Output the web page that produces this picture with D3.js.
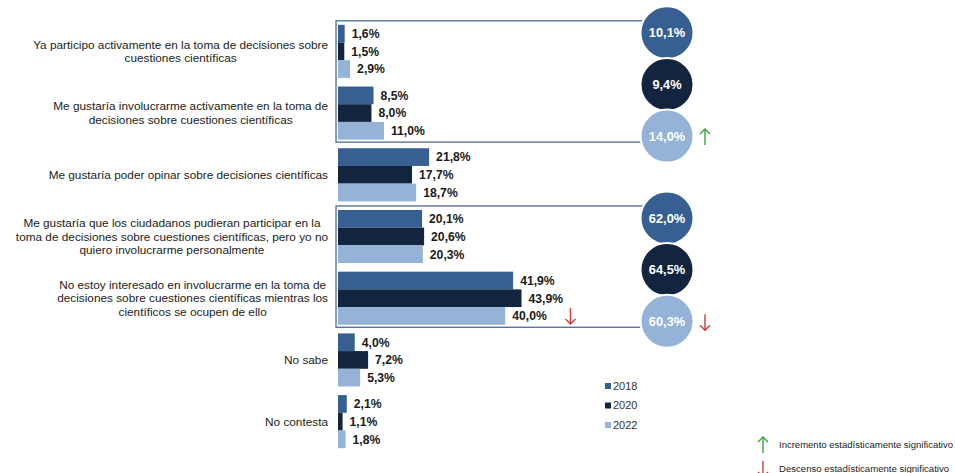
<!DOCTYPE html>
<html><head><meta charset="utf-8">
<script src="https://cdn.jsdelivr.net/npm/d3@7"></script>
<style>body{margin:0;background:#fff}svg{display:block;font-family:"Liberation Sans",Arial,sans-serif}</style>
</head><body>
<svg id="c" width="955" height="473"></svg>
<script>
const categories = [
  ["Ya participo activamente en la toma de decisiones sobre","cuestiones científicas"],
  ["Me gustaría involucrarme activamente en la toma de","decisiones sobre cuestiones científicas"],
  ["Me gustaría poder opinar sobre decisiones científicas"],
  ["Me gustaría que los ciudadanos pudieran participar en la","toma de decisiones sobre cuestiones científicas, pero yo no","quiero involucrarme personalmente"],
  ["No estoy interesado en involucrarme en la toma de","decisiones sobre cuestiones científicas mientras los","científicos se ocupen de ello"],
  ["No sabe"],
  ["No contesta"]
];
const years = ["2018","2020","2022"];
const v2018 = [1.6, 8.5, 21.8, 20.1, 41.9, 4.0, 2.1];
const v2020 = [1.5, 8.0, 17.7, 20.6, 43.9, 7.2, 1.1];
const v2022 = [2.9, 11.0, 18.7, 20.3, 40.0, 5.3, 1.8];
const totals2018 = [10.1, 62.0];
const totals2020 = [9.4, 64.5];
const totals2022 = [14.0, 60.3];
const totalGroups = [[0,1],[3,4]];
const totalSignif = [[null,null,"up"],[null,null,"down"]];
const barSignif = [{cat:4, year:"2022", dir:"down"}];
const colors = {"2018":"#375f91","2020":"#13243f","2022":"#95b3d7"};
const fmt = v => v.toFixed(1).replace(".", ",") + "%";

const svg = d3.select("#c");
const series = {"2018":v2018,"2020":v2020,"2022":v2022};
const x = d3.scaleLinear().domain([0,50]).range([338, 547]);
const y = d3.scaleBand().domain(d3.range(categories.length)).range([20.5, 452.5]).paddingInner(0.14).paddingOuter(0.07);
const yi = d3.scaleBand().domain(years).range([0, y.bandwidth()]);

// boxes
totalGroups.forEach(g => {
  const top = y(g[0]) - 4, bot = y(g[1]) + y.bandwidth() + 2.5;
  svg.append("rect").attr("x",336).attr("y",top).attr("width",667-336).attr("height",bot-top)
    .attr("fill","none").attr("stroke","#3d5f8e").attr("stroke-width",1.2);
});

// bars
const gBars = svg.append("g");
categories.forEach((c,i) => {
  years.forEach(yr => {
    const v = series[yr][i];
    gBars.append("rect").attr("x", x(0)).attr("y", y(i)+yi(yr)).attr("width", x(v)-x(0)).attr("height", yi.bandwidth())
      .attr("fill", colors[yr]);
    gBars.append("text").attr("x", x(v)+7).attr("y", y(i)+yi(yr)+yi.bandwidth()/2).attr("dy","0.36em")
      .attr("font-size",12.2).attr("font-weight","bold").attr("fill","#1a1a1a").text(fmt(v));
  });
});

// category labels
categories.forEach((lines,i) => {
  const t = svg.append("text").attr("font-size",11.8).attr("fill","#222").attr("text-anchor","middle");
  const lh = 13.8;
  const cy = y(i) + y.bandwidth()/2;
  const spans = lines.map((l,k) => t.append("tspan").attr("y", cy + (k-(lines.length-1)/2)*lh).attr("dy","0.35em").text(l));
  let maxW = 0;
  spans.forEach(s => maxW = Math.max(maxW, s.node().getComputedTextLength()));
  spans.forEach(s => s.attr("x", 328 - maxW/2));
});

// arrows
function arrow(cx, y0, y1, dir, color) {
  const g = svg.append("g").attr("stroke", color).attr("stroke-width",1.4).attr("fill","none");
  g.append("line").attr("x1",cx).attr("x2",cx).attr("y1",y0).attr("y2",y1);
  if (dir === "up") g.append("path").attr("d",`M${cx-5},${y0+5}L${cx},${y0}L${cx+5},${y0+5}`);
  else g.append("path").attr("d",`M${cx-5},${y1-5}L${cx},${y1}L${cx+5},${y1-5}`);
}
const arrowColor = {up:"#3aa33a", down:"#d23b3b"};

// circles
const totals = {"2018":totals2018,"2020":totals2020,"2022":totals2022};
totalGroups.forEach((g,gi) => {
  const top = y(g[0]) - 4, bot = y(g[1]) + y.bandwidth() + 2.5;
  const step = (bot - top - 18) / 2;
  years.forEach((yr,k) => {
    const cy = top + 12 + k*step;
    svg.append("circle").attr("cx",667).attr("cy",cy).attr("r",26.5).attr("fill",colors[yr]).attr("stroke","#fff").attr("stroke-width",2);
    svg.append("text").attr("x",667).attr("y",cy).attr("dy","0.36em").attr("text-anchor","middle")
      .attr("font-size",12.8).attr("font-weight","bold").attr("fill","#fff").text(fmt(totals[yr][gi]));
    const s = totalSignif[gi][k];
    if (s) arrow(705, cy-7, cy+9, s, arrowColor[s]);
  });
});
barSignif.forEach(b => {
  const cy = y(b.cat)+yi(b.year)+yi.bandwidth()/2;
  arrow(570.5, cy-8, cy+8, b.dir, arrowColor[b.dir]);
});

// year legend
years.forEach((yr,k) => {
  const ly = 386 + k*19.5;
  svg.append("rect").attr("x",605).attr("y",ly-3).attr("width",6).attr("height",6).attr("fill",colors[yr]);
  svg.append("text").attr("x",613).attr("y",ly).attr("dy","0.36em").attr("font-size",11).attr("fill","#333").text(yr);
});

// significance legend
const sig = [{dir:"up", label:"Incremento estadísticamente significativo"},{dir:"down", label:"Descenso estadísticamente significativo"}];
sig.forEach((s,k) => {
  const cy = 445 + k*24;
  arrow(763, cy-8, cy+8, s.dir, arrowColor[s.dir]);
  const t = svg.append("text").attr("x",779).attr("y",cy).attr("dy","0.35em").attr("font-size",9.6).attr("fill","#222").text(s.label);
  const w = t.node().getComputedTextLength();
  if (779 + w > 953) t.attr("textLength", 953 - 779).attr("lengthAdjust","spacingAndGlyphs");
});
</script>
</body></html>
